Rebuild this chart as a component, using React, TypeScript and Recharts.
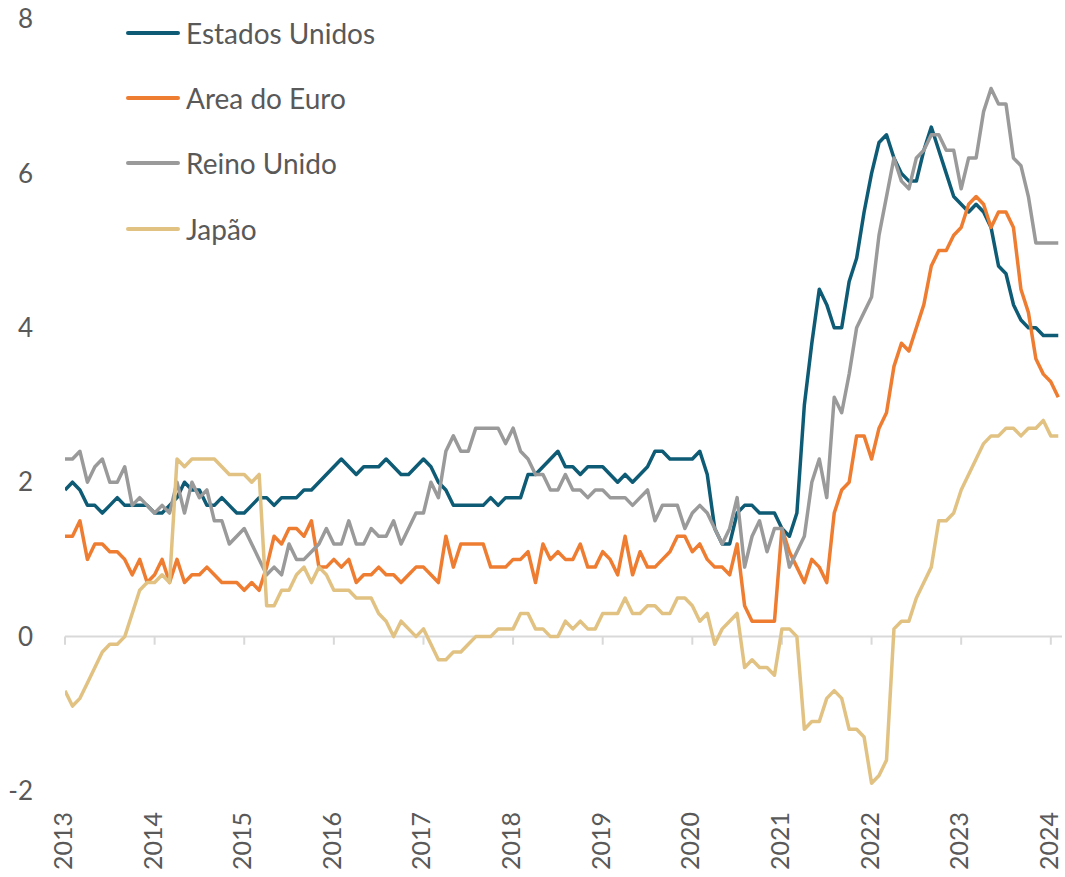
import React from 'react';
import { LineChart, Line, XAxis, YAxis, ReferenceLine } from 'recharts';

const YEAR_LABELS = ['2013', '2014', '2015', '2016', '2017', '2018', '2019', '2020', '2021', '2022', '2023', '2024'];
const TICK_MONTHS = [0, 12, 24, 36, 48, 60, 72, 84, 96, 108, 120, 132];
const Y_TICKS = [-2, 0, 2, 4, 6, 8];

const US = [
  1.9, 2.0, 1.9, 1.7, 1.7, 1.6, 1.7, 1.8, 1.7, 1.7, 1.7, 1.7,
  1.6, 1.6, 1.7, 1.8, 2.0, 1.9, 1.9, 1.7, 1.7, 1.8, 1.7, 1.6,
  1.6, 1.7, 1.8, 1.8, 1.7, 1.8, 1.8, 1.8, 1.9, 1.9, 2.0, 2.1,
  2.2, 2.3, 2.2, 2.1, 2.2, 2.2, 2.2, 2.3, 2.2, 2.1, 2.1, 2.2,
  2.3, 2.2, 2.0, 1.9, 1.7, 1.7, 1.7, 1.7, 1.7, 1.8, 1.7, 1.8,
  1.8, 1.8, 2.1, 2.1, 2.2, 2.3, 2.4, 2.2, 2.2, 2.1, 2.2, 2.2,
  2.2, 2.1, 2.0, 2.1, 2.0, 2.1, 2.2, 2.4, 2.4, 2.3, 2.3, 2.3,
  2.3, 2.4, 2.1, 1.4, 1.2, 1.2, 1.6, 1.7, 1.7, 1.6, 1.6, 1.6,
  1.4, 1.3, 1.6, 3.0, 3.8, 4.5, 4.3, 4.0, 4.0, 4.6, 4.9, 5.5,
  6.0, 6.4, 6.5, 6.2, 6.0, 5.9, 5.9, 6.3, 6.6, 6.3, 6.0, 5.7,
  5.6, 5.5, 5.6, 5.5, 5.3, 4.8, 4.7, 4.3, 4.1, 4.0, 4.0, 3.9,
  3.9, 3.9,
];

const EURO = [
  1.3, 1.3, 1.5, 1.0, 1.2, 1.2, 1.1, 1.1, 1.0, 0.8, 1.0, 0.7,
  0.8, 1.0, 0.7, 1.0, 0.7, 0.8, 0.8, 0.9, 0.8, 0.7, 0.7, 0.7,
  0.6, 0.7, 0.6, 0.9, 1.3, 1.2, 1.4, 1.4, 1.3, 1.5, 0.9, 0.9,
  1.0, 0.9, 1.0, 0.7, 0.8, 0.8, 0.9, 0.8, 0.8, 0.7, 0.8, 0.9,
  0.9, 0.8, 0.7, 1.3, 0.9, 1.2, 1.2, 1.2, 1.2, 0.9, 0.9, 0.9,
  1.0, 1.0, 1.1, 0.7, 1.2, 1.0, 1.1, 1.0, 1.0, 1.2, 0.9, 0.9,
  1.1, 1.0, 0.8, 1.3, 0.8, 1.1, 0.9, 0.9, 1.0, 1.1, 1.3, 1.3,
  1.1, 1.2, 1.0, 0.9, 0.9, 0.8, 1.2, 0.4, 0.2, 0.2, 0.2, 0.2,
  1.4, 1.1, 0.9, 0.7, 1.0, 0.9, 0.7, 1.6, 1.9, 2.0, 2.6, 2.6,
  2.3, 2.7, 2.9, 3.5, 3.8, 3.7, 4.0, 4.3, 4.8, 5.0, 5.0, 5.2,
  5.3, 5.6, 5.7, 5.6, 5.3, 5.5, 5.5, 5.3, 4.5, 4.2, 3.6, 3.4,
  3.3, 3.1,
];

const UK = [
  2.3, 2.3, 2.4, 2.0, 2.2, 2.3, 2.0, 2.0, 2.2, 1.7, 1.8, 1.7,
  1.6, 1.7, 1.6, 2.0, 1.6, 2.0, 1.8, 1.9, 1.5, 1.5, 1.2, 1.3,
  1.4, 1.2, 1.0, 0.8, 0.9, 0.8, 1.2, 1.0, 1.0, 1.1, 1.2, 1.4,
  1.2, 1.2, 1.5, 1.2, 1.2, 1.4, 1.3, 1.3, 1.5, 1.2, 1.4, 1.6,
  1.6, 2.0, 1.8, 2.4, 2.6, 2.4, 2.4, 2.7, 2.7, 2.7, 2.7, 2.5,
  2.7, 2.4, 2.3, 2.1, 2.1, 1.9, 1.9, 2.1, 1.9, 1.9, 1.8, 1.9,
  1.9, 1.8, 1.8, 1.8, 1.7, 1.8, 1.9, 1.5, 1.7, 1.7, 1.7, 1.4,
  1.6, 1.7, 1.6, 1.4, 1.2, 1.4, 1.8, 0.9, 1.3, 1.5, 1.1, 1.4,
  1.4, 0.9, 1.1, 1.3, 2.0, 2.3, 1.8, 3.1, 2.9, 3.4, 4.0, 4.2,
  4.4, 5.2, 5.7, 6.2, 5.9, 5.8, 6.2, 6.3, 6.5, 6.5, 6.3, 6.3,
  5.8, 6.2, 6.2, 6.8, 7.1, 6.9, 6.9, 6.2, 6.1, 5.7, 5.1, 5.1,
  5.1, 5.1,
];

const JAPAN = [
  -0.7, -0.9, -0.8, -0.6, -0.4, -0.2, -0.1, -0.1, 0.0, 0.3, 0.6, 0.7,
  0.7, 0.8, 0.7, 2.3, 2.2, 2.3, 2.3, 2.3, 2.3, 2.2, 2.1, 2.1,
  2.1, 2.0, 2.1, 0.4, 0.4, 0.6, 0.6, 0.8, 0.9, 0.7, 0.9, 0.8,
  0.6, 0.6, 0.6, 0.5, 0.5, 0.5, 0.3, 0.2, 0.0, 0.2, 0.1, 0.0,
  0.1, -0.1, -0.3, -0.3, -0.2, -0.2, -0.1, 0.0, 0.0, 0.0, 0.1, 0.1,
  0.1, 0.3, 0.3, 0.1, 0.1, 0.0, 0.0, 0.2, 0.1, 0.2, 0.1, 0.1,
  0.3, 0.3, 0.3, 0.5, 0.3, 0.3, 0.4, 0.4, 0.3, 0.3, 0.5, 0.5,
  0.4, 0.2, 0.3, -0.1, 0.1, 0.2, 0.3, -0.4, -0.3, -0.4, -0.4, -0.5,
  0.1, 0.1, 0.0, -1.2, -1.1, -1.1, -0.8, -0.7, -0.8, -1.2, -1.2, -1.3,
  -1.9, -1.8, -1.6, 0.1, 0.2, 0.2, 0.5, 0.7, 0.9, 1.5, 1.5, 1.6,
  1.9, 2.1, 2.3, 2.5, 2.6, 2.6, 2.7, 2.7, 2.6, 2.7, 2.7, 2.8,
  2.6, 2.6,
];

const SERIES = [
  { key: 'us', name: 'Estados Unidos', color: '#0e5b76' },
  { key: 'euro', name: 'Area do Euro', color: '#ee7d31' },
  { key: 'uk', name: 'Reino Unido', color: '#9a9a9a' },
  { key: 'jp', name: 'Japão', color: '#e1c283' },
];

const data = US.map((v, i) => ({ m: i, us: v, euro: EURO[i], uk: UK[i], jp: JAPAN[i] }));

const TEXT = '#595959';
const FONT = 'Lato, "Open Sans", sans-serif';

const XTick = (props: any) => {
  const { x, y, payload } = props;
  const idx = TICK_MONTHS.indexOf(payload.value);
  const label = idx >= 0 ? YEAR_LABELS[idx] : '';
  return (
    <text
      transform={`translate(${x + 7},${y + 21}) rotate(-90)`}
      textAnchor="end"
      fill={TEXT}
      fontSize={25}
      fontFamily={FONT}
    >
      {label}
    </text>
  );
};

const LegendBox = () => (
  <div style={{ position: 'absolute', left: 126, top: 0, fontFamily: FONT, pointerEvents: 'none' }}>
    {SERIES.map((s) => (
      <div key={s.key} style={{ display: 'flex', alignItems: 'center', height: 65.33 }}>
        <div style={{ width: 54, height: 4, borderRadius: 2, background: s.color }} />
        <span style={{ marginLeft: 6, fontSize: 28, color: TEXT, lineHeight: '30px', whiteSpace: 'nowrap' }}>{s.name}</span>
      </div>
    ))}
  </div>
);

export default function App() {
  return (
    <div style={{ position: 'absolute', left: 0, top: 0, width: 1065, height: 877, background: '#fff', fontFamily: FONT }}>
      <LineChart width={1065} height={877} data={data} margin={{ top: 19, right: 3, bottom: 0, left: 0 }}>
        <XAxis
          dataKey="m"
          type="number"
          domain={[0, 133.5]}
          ticks={TICK_MONTHS}
          interval={0}
          axisLine={false}
          tickLine={false}
          tickSize={0}
          tickMargin={0}
          height={86}
          tick={(p: any) => <XTick {...p} />}
          allowDataOverflow
        />
        <YAxis
          type="number"
          domain={[-2, 8]}
          ticks={Y_TICKS}
          interval={0}
          axisLine={false}
          tickLine={false}
          tickSize={0}
          tickMargin={32}
          width={65}
          tick={{ fill: TEXT, fontSize: 26, fontFamily: FONT }}
          allowDataOverflow
        />
        <ReferenceLine y={0} stroke="#d9d9d9" strokeWidth={2} />
        {TICK_MONTHS.map((t) => (
          <ReferenceLine
            key={`tk${t}`}
            segment={[{ x: t, y: 0 }, { x: t, y: -0.105 }]}
            stroke="#d9d9d9"
            strokeWidth={2}
          />
        ))}
        {SERIES.map((s) => (
          <Line
            key={s.key}
            type="linear"
            dataKey={s.key}
            name={s.name}
            stroke={s.color}
            strokeWidth={3.5}
            strokeLinejoin="round"
            dot={false}
            activeDot={false}
            isAnimationActive={false}
          />
        ))}
      </LineChart>
      <LegendBox />
    </div>
  );
}
